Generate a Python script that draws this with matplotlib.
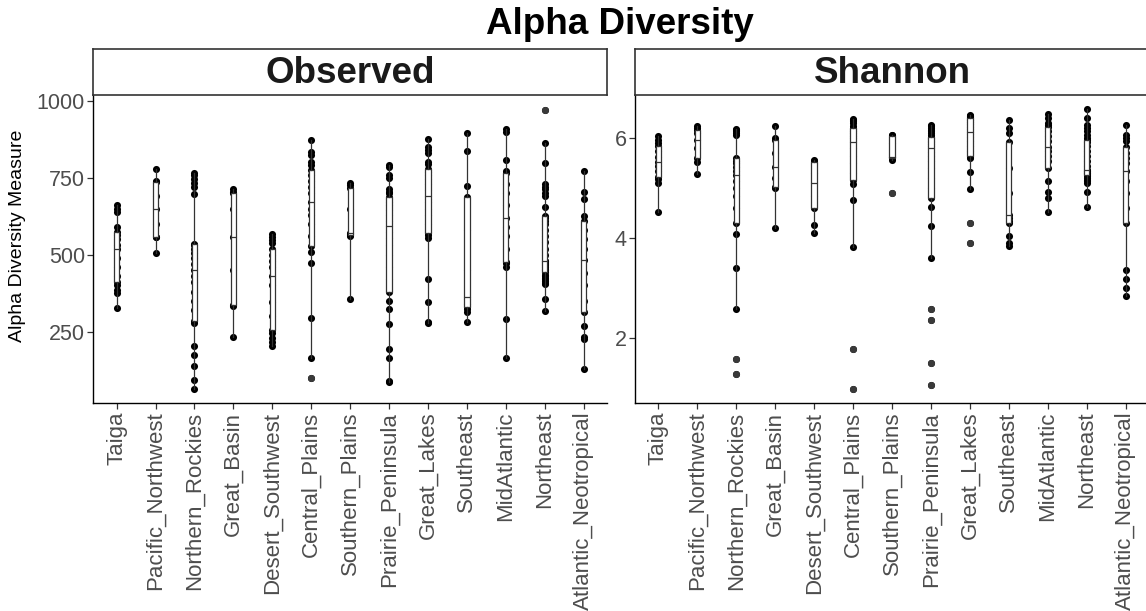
import numpy as np
import matplotlib
matplotlib.use("Agg")
import matplotlib.pyplot as plt

plt.rcParams['font.family'] = ['Liberation Sans', 'DejaVu Sans']

regions = ['Taiga', 'Pacific_Northwest', 'Northern_Rockies', 'Great_Basin',
           'Desert_Southwest', 'Central_Plains', 'Southern_Plains',
           'Prairie_Peninsula', 'Great_Lakes', 'Southeast', 'MidAtlantic',
           'Northeast', 'Atlantic_Neotropical']

# values (points hidden under the boxes are estimated)
observed = [
    [326, 375, 385, 400, 412, 430, 460, 490, 517, 530, 550, 565, 575, 589, 640, 650, 661],
    [505, 557, 557, 600, 647, 690, 737, 740, 777],
    [63, 93, 139, 174, 204, 277, 285, 320, 350, 380, 410, 430, 450, 470, 490, 505, 520,
     530, 535, 697, 721, 732, 745, 760, 766],
    [232, 335, 337, 450, 557, 650, 699, 705, 712],
    [204, 215, 229, 245, 256, 300, 346, 400, 431, 460, 480, 500, 517, 537, 548, 558, 567],
    [99, 164, 293, 472, 510, 529, 560, 600, 630, 650, 672, 700, 720, 740, 760, 775,
     791, 802, 824, 834, 872],
    [356, 560, 564, 567, 570, 650, 716, 725, 734],
    [86, 90, 164, 193, 274, 324, 351, 380, 420, 460, 500, 530, 555, 575, 593, 610, 630,
     645, 660, 672, 680, 688, 700, 705, 712, 748, 760, 784, 791],
    [277, 282, 347, 420, 555, 565, 572, 600, 630, 650, 670, 680, 691, 710, 730, 745, 760,
     770, 777, 794, 802, 829, 840, 851, 875],
    [280, 315, 325, 331, 340, 355, 364, 450, 580, 686, 724, 838, 894],
    [164, 291, 461, 472, 477, 520, 560, 590, 620, 660, 700, 730, 766, 773, 807, 899, 907],
    [317, 355, 405, 409, 415, 420, 423, 430, 434, 445, 450, 455, 460, 465, 470, 473, 476,
     479, 481, 500, 520, 540, 560, 580, 600, 610, 620, 626, 654, 691, 699, 712, 721, 729,
     797, 862, 970],
    [128, 225, 234, 268, 315, 350, 400, 440, 483, 520, 550, 580, 610, 626, 680, 703, 772],
]

shannon = [
    [4.53, 5.11, 5.18, 5.23, 5.35, 5.45, 5.53, 5.62, 5.75, 5.85, 5.90, 5.97, 6.05],
    [5.29, 5.53, 5.60, 5.80, 5.97, 6.10, 6.17, 6.20, 6.25],
    [1.29, 1.58, 2.59, 3.40, 4.09, 4.31, 4.60, 4.85, 5.00, 5.15, 5.27, 5.35, 5.42, 5.50,
     5.55, 5.60, 6.07, 6.10, 6.14, 6.16, 6.18],
    [4.20, 5.00, 5.03, 5.20, 5.42, 5.70, 5.97, 6.00, 6.25],
    [4.11, 4.27, 4.60, 4.85, 5.10, 5.30, 5.53, 5.55, 5.57],
    [0.99, 1.79, 3.82, 4.77, 5.08, 5.17, 5.30, 5.50, 5.65, 5.80, 5.93, 6.00, 6.05, 6.10,
     6.15, 6.20, 6.25, 6.30, 6.35, 6.37, 6.39],
    [4.90, 5.57, 5.60, 5.62, 5.63, 5.90, 6.05, 6.06, 6.07],
    [1.06, 1.51, 2.37, 2.59, 3.60, 4.25, 4.62, 4.80, 5.00, 5.20, 5.40, 5.55, 5.65, 5.72,
     5.80, 5.85, 5.88, 5.92, 5.95, 5.98, 6.00, 6.03, 6.07, 6.10, 6.14, 6.17, 6.20, 6.24, 6.27],
    [3.90, 4.30, 4.98, 5.33, 5.60, 5.62, 5.65, 5.75, 5.85, 5.95, 6.02, 6.08, 6.13, 6.18,
     6.23, 6.28, 6.32, 6.36, 6.40, 6.41, 6.42, 6.43, 6.44, 6.45, 6.46],
    [3.84, 3.90, 4.05, 4.30, 4.35, 4.40, 4.47, 4.90, 5.40, 5.93, 6.10, 6.20, 6.37],
    [4.53, 4.80, 4.93, 5.15, 5.40, 5.55, 5.65, 5.75, 5.83, 5.95, 6.05, 6.15, 6.23, 6.27,
     6.30, 6.40, 6.48],
    [4.63, 4.93, 5.10, 5.15, 5.17, 5.20, 5.24, 5.27, 5.28, 5.30, 5.31, 5.33, 5.34, 5.35,
     5.37, 5.45, 5.55, 5.65, 5.75, 5.85, 5.92, 5.97, 6.00, 6.07, 6.14, 6.20, 6.27, 6.40, 6.58],
    [2.85, 3.00, 3.18, 3.37, 4.31, 4.60, 4.90, 5.15, 5.35, 5.50, 5.60, 5.70, 5.82, 5.95,
     6.00, 6.07, 6.27],
]

observed_ticks = [250, 500, 750, 1000]
shannon_ticks = [2, 4, 6]

W, H = 1146, 611
fig = plt.figure(figsize=(W / 100, H / 100), dpi=100)


def panel(x0, x1, data, ticks, ylim, title):
    ax = fig.add_axes([x0 / W, 1 - 403.3 / H, (x1 - x0) / W, (403.3 - 94) / H])
    pos = np.arange(len(regions))
    for i, vals in enumerate(data):
        ax.scatter(np.full(len(vals), i), vals, s=26, color='black', zorder=2,
                   linewidths=0)
    ax.boxplot(data, positions=pos, widths=0.135, patch_artist=True, showcaps=False,
               showfliers=True, whis=1.5,
               boxprops=dict(facecolor='white', edgecolor='#333333', linewidth=0.9),
               medianprops=dict(color='#333333', linewidth=0.9),
               whiskerprops=dict(color='#333333', linewidth=0.9),
               flierprops=dict(marker='o', markerfacecolor='#3a3a3a',
                               markeredgecolor='none', markersize=5.1),
               zorder=3)
    ax.set_xlim(-0.6, len(regions) - 0.4)
    ax.set_ylim(*ylim)
    ax.set_xticks(pos)
    ax.set_xticklabels(regions, rotation=90, fontsize=16, color='#4D4D4D')
    ax.set_yticks(ticks)
    ax.set_yticklabels([str(t) for t in ticks], fontsize=15.5, color='#4D4D4D')
    ax.tick_params(length=4, width=0.9, color='#333333', pad=2)
    for s in ['top', 'right']:
        ax.spines[s].set_visible(False)
    for s in ['left', 'bottom']:
        ax.spines[s].set_linewidth(1.0)
        ax.spines[s].set_color('black')
    # facet strip
    sx = fig.add_axes([x0 / W, 1 - 95 / H, (x1 - x0) / W, (95 - 49.3) / H])
    sx.set_xticks([])
    sx.set_yticks([])
    for s in sx.spines.values():
        s.set_linewidth(1.2)
        s.set_color('#333333')
    sx.text(0.5, 0.47, title, ha='center', va='center', fontsize=26.5,
            fontweight='bold', color='#1A1A1A', transform=sx.transAxes)
    return ax


ax1 = panel(93.3, 607, observed, observed_ticks, (17.5, 1021.8), 'Observed')
ax2 = panel(635, 1149, shannon, shannon_ticks, (0.70, 6.886), 'Shannon')

fig.text(18 / W, 1 - 236 / H, 'Alpha Diversity Measure', rotation=90, ha='center',
         va='center', fontsize=14, color='black')
fig.text(620 / W, 1 - 24 / H, 'Alpha Diversity', ha='center', va='center',
         fontsize=26.5, fontweight='bold', color='black')

fig.savefig('out.png', dpi=100)
